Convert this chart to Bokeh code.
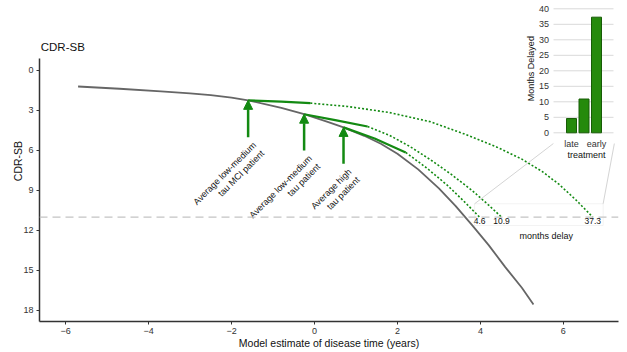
import math
from bokeh.plotting import figure
from bokeh.models import (Range1d, FixedTicker, Arrow, NormalHead, ColumnDataSource,
                          Label, BoxAnnotation, Span)
from bokeh.core.properties import value
from bokeh.embed import file_html
from bokeh.resources import INLINE

FONT = "Liberation Sans"

# ---------------- data ----------------
x_ticks = [-6, -4, -2, 0, 2, 4, 6]
y_ticks = [0, 3, 6, 9, 12, 15, 18]
threshold = 11

gray_x = [-5.7, -4.7, -3.7, -3.0, -2.5, -2.0, -1.6, -0.8, -0.25, 0.3, 0.7, 1.2, 1.6, 2.0,
          2.5, 3.0, 3.4, 3.8, 4.2, 4.6, 5.0, 5.28]
gray_y = [1.2, 1.37, 1.56, 1.71, 1.85, 2.04, 2.24, 2.8, 3.28, 3.83, 4.27, 4.9, 5.5, 6.24,
          7.42, 8.85, 10.15, 11.6, 13.1, 14.75, 16.3, 17.55]

mci_solid_x = [-1.6, -0.8, -0.1]
mci_solid_y = [2.24, 2.34, 2.45]
mci_dot_x = [-0.1, 0.8, 1.8, 2.8, 3.6, 4.4, 5.0, 5.5, 5.9, 6.3, 6.71]
mci_dot_y = [2.45, 2.7, 3.15, 3.85, 4.75, 5.75, 6.65, 7.6, 8.55, 9.7, 11.0]

lm_solid_x = [-0.25, 0.5, 1.28]
lm_solid_y = [3.28, 3.72, 4.2]
lm_dot_x = [1.28, 1.8, 2.3, 2.8, 3.3, 3.8, 4.2, 4.51]
lm_dot_y = [4.2, 4.85, 5.7, 6.7, 7.8, 9.0, 10.1, 11.0]

hi_solid_x = [0.7, 1.45, 2.2]
hi_solid_y = [4.27, 5.1, 6.15]
hi_dot_x = [2.2, 2.7, 3.2, 3.6, 3.98]
hi_dot_y = [6.15, 7.3, 8.6, 9.8, 11.0]

arrow_base_y = [5.0, 6.0, 7.0]
arrow_labels = ["Average low-medium\ntau MCI patient",
                "Average low-medium\ntau patient",
                "Average high\ntau patient"]

delays = [4.6, 10.9, 37.3]          # late, middle, early
delay_labels = ["4.6", "10.9", "37.3"]
treat_pos = [1, 2, 3]
treat_tick_pos = [1, 3]
treat_tick_labels = ["late", "early"]
inset_ticks = [0, 5, 10, 15, 20, 25, 30, 35, 40]

GREEN = "#138a12"
GRAY = "#666666"

# ---------------- figure ----------------
p = figure(width=627, height=352, output_backend="svg", toolbar_location=None,
           x_range=Range1d(-6.63, 7.33), y_range=Range1d(18.83, -5.25),
           min_border_left=39, min_border_right=9, min_border_top=0, min_border_bottom=31)
p.outline_line_color = None
p.background_fill_color = "white"
p.xgrid.visible = False
p.ygrid.visible = False

for ax in (p.xaxis[0], p.yaxis[0]):
    ax.axis_line_color = "#333333"
    ax.axis_line_width = 1.5
    ax.major_tick_line_color = "#333333"
    ax.major_tick_in = 0
    ax.major_tick_out = 3
    ax.minor_tick_line_color = None
    ax.major_label_text_font = FONT
    ax.major_label_text_font_size = "9px"
    ax.major_label_text_color = "#333333"
    ax.major_label_standoff = 3
    ax.axis_label_text_font = FONT
    ax.axis_label_text_font_style = "normal"
    ax.axis_label_text_font_size = "10.5px"
    ax.axis_label_text_color = "#111111"
    ax.axis_label_standoff = 0

p.xaxis[0].ticker = FixedTicker(ticks=x_ticks)
p.yaxis[0].ticker = FixedTicker(ticks=y_ticks)
p.yaxis[0].bounds = (-0.9, 18.83)
p.yaxis[0].axis_label_standoff = -4
p.xaxis[0].axis_label = "Model estimate of disease time (years)"
p.yaxis[0].axis_label = "CDR-SB"

# threshold dashed line
p.add_layout(Span(location=threshold, dimension="width", line_color="#c4c4c4",
                  line_width=1.3, line_dash="8 5"))

# natural history curve
p.line(gray_x, gray_y, line_color=GRAY, line_width=1.8)

# treated trajectories
for sx, sy, dx, dy in [(mci_solid_x, mci_solid_y, mci_dot_x, mci_dot_y),
                       (lm_solid_x, lm_solid_y, lm_dot_x, lm_dot_y),
                       (hi_solid_x, hi_solid_y, hi_dot_x, hi_dot_y)]:
    p.line(sx, sy, line_color=GREEN, line_width=2.2)
    p.line(dx, dy, line_color=GREEN, line_width=1.6, line_dash="2 2")

# arrows
arrow_x = [mci_solid_x[0], lm_solid_x[0], hi_solid_x[0]]
arrow_tip = [mci_solid_y[0], lm_solid_y[0], hi_solid_y[0]]
asrc = ColumnDataSource(dict(x0=arrow_x, y0=arrow_base_y, x1=arrow_x, y1=arrow_tip))
p.add_layout(Arrow(x_start="x0", y_start="y0", x_end="x1", y_end="y1", source=asrc,
                   line_color=GREEN, line_width=2.5,
                   end=NormalHead(size=9, fill_color=GREEN, line_color=GREEN, line_width=1)))

p.text(x=[a + 0.07 for a in arrow_x], y=[b + 0.22 for b in arrow_base_y], text=arrow_labels,
       angle=math.pi / 4, text_align="right", text_baseline="top",
       text_font=value(FONT), text_font_size="9px", text_color="#111111", text_line_height=1.15)

# delay box and labels
end_x = [hi_dot_x[-1], lm_dot_x[-1], mci_dot_x[-1]]
p.add_layout(BoxAnnotation(left=3.86, right=6.96, top=10.0, bottom=11.63,
                           fill_alpha=0, line_color="#d4d4d4", line_width=1))
p.segment(x0=[3.86, 6.96], y0=[10.0, 10.0], x1=[5.76, 7.23], y1=[5.48, 5.48],
          line_color="#d4d4d4", line_width=1)
p.text(x=end_x, y=[threshold + 0.1] * 3, text=delay_labels, text_align="center",
       text_baseline="top", text_font=value(FONT), text_font_size="8.5px", text_color="#111111")
p.text(x=[5.59], y=[12.45], text=["months delay"], text_align="center", text_baseline="middle",
       text_font=value(FONT), text_font_size="9px", text_color="#111111")

# title
p.add_layout(Label(x=-6.6, y=-1.73, text="CDR-SB", text_baseline="middle", text_align="left",
                   text_font=FONT, text_font_size="11.5px", text_color="#111111"))

# ---------------- inset bar chart ----------------
p.extra_x_ranges = {"ix": Range1d(-41.56, 4.76)}
p.extra_y_ranges = {"iy": Range1d(-60.87, 42.68)}
p.segment(x0=[-0.44] * len(inset_ticks), x1=[4.36] * len(inset_ticks), y0=inset_ticks,
          y1=inset_ticks, line_color="#d9d9d9", line_width=1,
          x_range_name="ix", y_range_name="iy")
p.vbar(x=treat_pos, top=delays, bottom=0, width=0.8, fill_color="#258a0c",
       line_color="#175c06", line_width=1, x_range_name="ix", y_range_name="iy")
p.text(x=[-0.8] * len(inset_ticks), y=inset_ticks, text=[str(t) for t in inset_ticks],
       text_align="right", text_baseline="middle", text_font=value(FONT),
       text_font_size="9px", text_color="#333333", x_range_name="ix", y_range_name="iy")
p.text(x=treat_tick_pos, y=[-3.45] * len(treat_tick_pos), text=treat_tick_labels,
       text_align="center", text_baseline="middle", text_font=value(FONT),
       text_font_size="9px", text_color="#333333", x_range_name="ix", y_range_name="iy")
p.text(x=[2.2], y=[-7.3], text=["treatment"], text_align="center", text_baseline="middle",
       text_font=value(FONT), text_font_size="9px", text_color="#111111",
       x_range_name="ix", y_range_name="iy")
p.text(x=[-2.28], y=[20.7], text=["Months Delayed"], angle=math.pi / 2, text_align="center",
       text_baseline="middle", text_font=value(FONT), text_font_size="9px",
       text_color="#111111", x_range_name="ix", y_range_name="iy")

open("out.html", "w").write(file_html(p, INLINE))
